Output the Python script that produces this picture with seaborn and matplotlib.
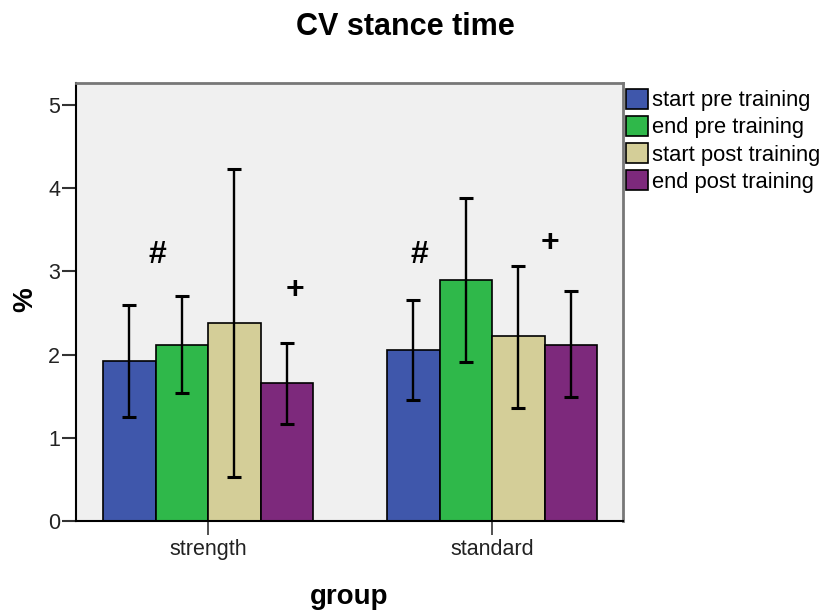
import pandas as pd
import numpy as np
import seaborn as sns
import matplotlib.pyplot as plt
from matplotlib.patches import Patch

# data
groups = ["strength", "standard"]
conditions = ["start pre training", "end pre training", "start post training", "end post training"]
colors = ["#3F57AB", "#2FB84A", "#D4CE98", "#7D297C"]

means = {
    "strength": [1.92, 2.12, 2.38, 1.66],
    "standard": [2.06, 2.90, 2.22, 2.12],
}
err_low = {
    "strength": [1.25, 1.54, 0.53, 1.17],
    "standard": [1.45, 1.91, 1.36, 1.49],
}
err_high = {
    "strength": [2.60, 2.70, 4.23, 2.14],
    "standard": [2.66, 3.88, 3.06, 2.76],
}

# significance marks: (group, x offset from group centre, y, text)
marks = [
    ("strength", -0.18, 3.2, "#"),
    ("strength", 0.306, 2.78, "+"),
    ("standard", -0.257, 3.2, "#"),
    ("standard", 0.204, 3.34, "+"),
]

rows = []
for g in groups:
    for i, c in enumerate(conditions):
        rows.append({"group": g, "condition": c, "value": means[g][i]})
df = pd.DataFrame(rows)

sns.set_style("white")
plt.rcParams['font.family'] = ['Liberation Sans', 'DejaVu Sans']
plt.rcParams['text.color'] = 'black'

fig = plt.figure(figsize=(8.23, 6.14), dpi=100)
ax = fig.add_axes([76/823, 1-521/614, (623-76)/823, (521-83)/614])
ax.set_facecolor("#F0F0F0")

sns.barplot(data=df, x="group", y="value", hue="condition", order=groups,
            hue_order=conditions, palette=colors, saturation=1, width=0.74, gap=0,
            errorbar=None, edgecolor="black", linewidth=1.2, legend=False, ax=ax)

# error bars centred on the drawn bars
bar_conts = list(ax.containers)
for ci, cont in enumerate(bar_conts):
    for gi, bar in enumerate(cont.patches):
        g = groups[gi]
        xc = bar.get_x() + bar.get_width() / 2
        m = means[g][ci]
        ax.errorbar(xc, m, yerr=[[m - err_low[g][ci]], [err_high[g][ci] - m]],
                    fmt="none", ecolor="black", elinewidth=1.7, capsize=5,
                    capthick=2.2, zorder=5)

for g, dx, y, t in marks:
    ax.text(groups.index(g) + dx, y, t, ha="center", va="center",
            fontsize=23, fontweight="bold", color="black")

ax.set_xlim(-0.465, 1.461)
ax.set_ylim(0, 5.264)
ax.set_yticks([0, 1, 2, 3, 4, 5])
ax.set_xlabel("")
ax.set_ylabel("")
ax.tick_params(axis="y", direction="out", length=10, width=1.5, color="#333333",
               pad=1.5, labelsize=15.5, left=True)
ax.tick_params(axis="x", direction="out", length=10, width=1.2, color="#333333",
               pad=3, labelsize=15.5, bottom=True)
for lab in ax.get_xticklabels() + ax.get_yticklabels():
    lab.set_color("#222222")

for s in ["left", "bottom"]:
    ax.spines[s].set_color("black")
    ax.spines[s].set_linewidth(1.5)
for s in ["top", "right"]:
    ax.spines[s].set_color("#777777")
    ax.spines[s].set_linewidth(2)

handles = [Patch(facecolor=c, edgecolor="black", linewidth=1.2) for c in colors]
fig.legend(handles, conditions, loc="upper left", bbox_to_anchor=(626/823, 1-89/614),
           frameon=False, fontsize=15.8, handlelength=1.0, handleheight=1.0,
           handletextpad=0.2, labelspacing=0.22, borderpad=0, borderaxespad=0)

fig.text(405/823, 1-27/614, "CV stance time", ha="center", va="center",
         fontsize=22, fontweight="bold")
fig.text(349/823, 1-597/614, "group", ha="center", va="center",
         fontsize=20, fontweight="bold")
fig.text(25/823, 1-300/614, "%", ha="center", va="center", rotation=90,
         fontsize=20, fontweight="bold")

fig.savefig("out.png", dpi=100)
